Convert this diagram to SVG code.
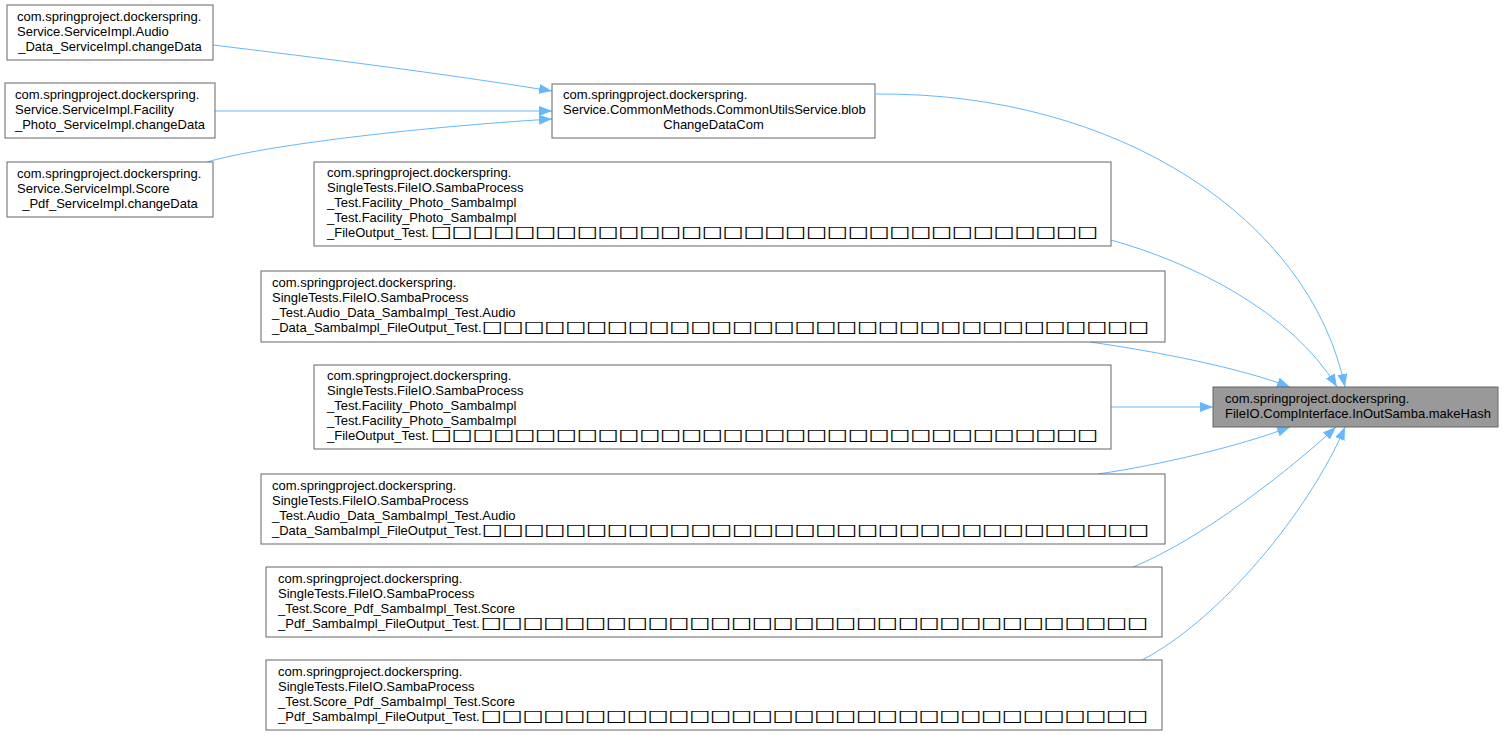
<svg xmlns="http://www.w3.org/2000/svg" width="1504" height="735" viewBox="0 0 1504 735">
<style>
rect.n{fill:#ffffff;stroke:#666666;stroke-width:1}
rect.tg{fill:#999999;stroke:#666666;stroke-width:1}
text{font-family:"Liberation Sans",Arial,sans-serif;font-size:13px;fill:#000000}
text.c{text-anchor:middle}
text.tofu{font-family:"DejaVu Sans",sans-serif;font-size:16px}
path.e{fill:none;stroke:#63b8ff;stroke-width:1;marker-end:url(#ah)}
</style>
<defs>
<marker id="ah" markerUnits="userSpaceOnUse" markerWidth="16" markerHeight="12" refX="13" refY="5" orient="auto"><path d="M0,0 L13,5 L0,10 z" fill="#63b8ff"/></marker>
</defs>
<rect width="1504" height="735" fill="#ffffff"/>
<g id="connectors">
<path class="e" d="M213,45 C320,58 440,73 552,91"/>
<path class="e" d="M215,111 L552,111"/>
<path class="e" d="M207,162 C265,145 420,127 552,119"/>
<path class="e" d="M876,94 C1120,92 1310,220 1345,387"/>
<path class="e" d="M1111,240 C1190,262 1290,310 1337,387"/>
<path class="e" d="M1090,342 C1160,352 1240,368 1290,387"/>
<path class="e" d="M1111,407 L1213,407"/>
<path class="e" d="M1098,474 C1160,465 1240,446 1290,427"/>
<path class="e" d="M1133,567 C1200,540 1290,470 1336,427"/>
<path class="e" d="M1142,660 C1220,620 1310,510 1345,427"/>
</g>
<g id="node_l1">
<rect class="n" x="7" y="5" width="206" height="55"/>
<text x="17" y="20.5">com.springproject.dockerspring.</text>
<text x="17" y="35.5">Service.ServiceImpl.Audio</text>
<text class="c" x="110" y="50.5">_Data_ServiceImpl.changeData</text>
</g>
<g id="node_l2">
<rect class="n" x="5" y="83" width="210" height="55"/>
<text x="15" y="98.5">com.springproject.dockerspring.</text>
<text x="15" y="113.5">Service.ServiceImpl.Facility</text>
<text class="c" x="110" y="128.5">_Photo_ServiceImpl.changeData</text>
</g>
<g id="node_l3">
<rect class="n" x="7" y="162" width="206" height="55"/>
<text x="17" y="177.5">com.springproject.dockerspring.</text>
<text x="17" y="192.5">Service.ServiceImpl.Score</text>
<text class="c" x="110" y="207.5">_Pdf_ServiceImpl.changeData</text>
</g>
<g id="node_m">
<rect class="n" x="552" y="84" width="323" height="54"/>
<text x="563" y="99">com.springproject.dockerspring.</text>
<text x="563" y="114">Service.CommonMethods.CommonUtilsService.blob</text>
<text class="c" x="713.5" y="129">ChangeDataCom</text>
</g>
<g id="node_a1">
<rect class="n" x="314" y="162" width="797" height="84"/>
<text x="327" y="177">com.springproject.dockerspring.</text>
<text x="327" y="192">SingleTests.FileIO.SambaProcess</text>
<text x="327" y="207">_Test.Facility_Photo_SambaImpl</text>
<text x="327" y="222">_Test.Facility_Photo_SambaImpl</text>
<text x="327" y="237">_FileOutput_Test.</text>
<text class="tofu" x="431" y="237" textLength="667" lengthAdjust="spacingAndGlyphs">□□□□□□□□□□□□□□□□□□□□□□□□□□□□□□□□</text>
</g>
<g id="node_b1">
<rect class="n" x="261" y="271" width="904" height="71"/>
<text x="272" y="287">com.springproject.dockerspring.</text>
<text x="272" y="302">SingleTests.FileIO.SambaProcess</text>
<text x="272" y="317">_Test.Audio_Data_SambaImpl_Test.Audio</text>
<text x="272" y="332">_Data_SambaImpl_FileOutput_Test.</text>
<text class="tofu" x="482" y="332" textLength="667" lengthAdjust="spacingAndGlyphs">□□□□□□□□□□□□□□□□□□□□□□□□□□□□□□□□</text>
</g>
<g id="node_a2">
<rect class="n" x="314" y="365" width="797" height="84"/>
<text x="327" y="380">com.springproject.dockerspring.</text>
<text x="327" y="395">SingleTests.FileIO.SambaProcess</text>
<text x="327" y="410">_Test.Facility_Photo_SambaImpl</text>
<text x="327" y="425">_Test.Facility_Photo_SambaImpl</text>
<text x="327" y="440">_FileOutput_Test.</text>
<text class="tofu" x="431" y="440" textLength="667" lengthAdjust="spacingAndGlyphs">□□□□□□□□□□□□□□□□□□□□□□□□□□□□□□□□</text>
</g>
<g id="node_b2">
<rect class="n" x="261" y="474" width="904" height="70"/>
<text x="272" y="489.5">com.springproject.dockerspring.</text>
<text x="272" y="504.5">SingleTests.FileIO.SambaProcess</text>
<text x="272" y="519.5">_Test.Audio_Data_SambaImpl_Test.Audio</text>
<text x="272" y="534.5">_Data_SambaImpl_FileOutput_Test.</text>
<text class="tofu" x="482" y="534.5" textLength="667" lengthAdjust="spacingAndGlyphs">□□□□□□□□□□□□□□□□□□□□□□□□□□□□□□□□</text>
</g>
<g id="node_c1">
<rect class="n" x="266" y="567" width="896" height="70"/>
<text x="278" y="582.5">com.springproject.dockerspring.</text>
<text x="278" y="597.5">SingleTests.FileIO.SambaProcess</text>
<text x="278" y="612.5">_Test.Score_Pdf_SambaImpl_Test.Score</text>
<text x="278" y="627.5">_Pdf_SambaImpl_FileOutput_Test.</text>
<text class="tofu" x="481" y="627.5" textLength="667" lengthAdjust="spacingAndGlyphs">□□□□□□□□□□□□□□□□□□□□□□□□□□□□□□□□</text>
</g>
<g id="node_c2">
<rect class="n" x="266" y="660" width="896" height="70"/>
<text x="278" y="675.5">com.springproject.dockerspring.</text>
<text x="278" y="690.5">SingleTests.FileIO.SambaProcess</text>
<text x="278" y="705.5">_Test.Score_Pdf_SambaImpl_Test.Score</text>
<text x="278" y="720.5">_Pdf_SambaImpl_FileOutput_Test.</text>
<text class="tofu" x="481" y="720.5" textLength="667" lengthAdjust="spacingAndGlyphs">□□□□□□□□□□□□□□□□□□□□□□□□□□□□□□□□</text>
</g>
<g id="node_target">
<rect class="tg" x="1213" y="387" width="285" height="40"/>
<text x="1225" y="402.5">com.springproject.dockerspring.</text>
<text x="1225" y="417.5">FileIO.CompInterface.InOutSamba.makeHash</text>
</g>
</svg>
